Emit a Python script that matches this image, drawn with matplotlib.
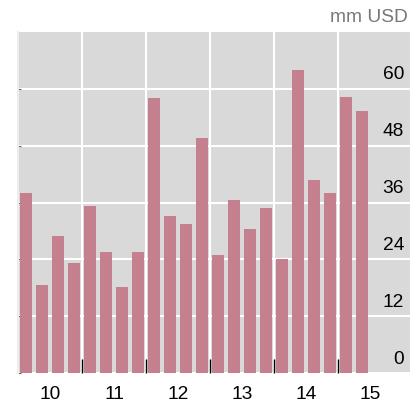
import numpy as np
import matplotlib
matplotlib.use('Agg')
import matplotlib.pyplot as plt
from matplotlib.ticker import FixedLocator

# quarterly values, years 10..15
years = ['10', '11', '12', '13', '14', '15']
values = [38.0, 18.6, 28.9, 23.2,
          35.2, 25.5, 18.2, 25.5,
          58.0, 33.1, 31.4, 49.7,
          24.9, 36.5, 30.4, 34.8,
          24.1, 63.9, 40.7, 38.0,
          58.2, 55.2]
yticks = [0, 12, 24, 36, 48, 60]
unit = 'mm USD'

plt.rcParams['font.family'] = ['Liberation Sans', 'DejaVu Sans']
fs = 13.8

fig = plt.figure(figsize=(4.15, 4.04), dpi=100)
ax = fig.add_axes([18 / 415, (404 - 373.3) / 404, 392 / 415, (373.3 - 31.7) / 404])
ax.set_facecolor('#d9d9d9')

x = np.arange(len(values))
ax.bar(x, values, width=0.75, color='#c4808f', zorder=2)

ax.set_xlim(-0.5, 24)
ax.set_ylim(0, 72)

# year labels at the middle of each 4-quarter block, grid at block edges
year_pos = [4 * i + 1.5 for i in range(len(years))]
ax.set_xticks(year_pos)
ax.set_xticklabels(years, fontsize=fs)
ax.xaxis.set_minor_locator(FixedLocator([4 * i + 3.5 for i in range(5)]))
ax.tick_params(axis='x', which='major', length=0, pad=9)
ax.tick_params(axis='x', which='minor', direction='in', length=10, width=1, color='black')
for b in [4 * i + 3.5 for i in range(5)]:
    ax.axvline(b, color='white', lw=1.5, zorder=1)

ax.set_yticks(yticks)
ax.set_yticklabels([])
ax.tick_params(axis='y', direction='in', length=2, color='#666666')
for v in yticks:
    ax.axhline(v, color='white', lw=1.5, zorder=1)
    ax.text(0.985, v + 1.1, str(v), transform=ax.get_yaxis_transform(),
            ha='right', va='bottom', fontsize=fs, color='black')

for s in ['top', 'right', 'bottom']:
    ax.spines[s].set_visible(False)
ax.spines['left'].set_color('#eeeeee')
ax.spines['left'].set_linewidth(1.5)

fig.text(408 / 415, 1 - 18 / 404, unit, ha='right', va='center',
         fontsize=fs, color='#777777')

plt.savefig('out.png', dpi=100)
